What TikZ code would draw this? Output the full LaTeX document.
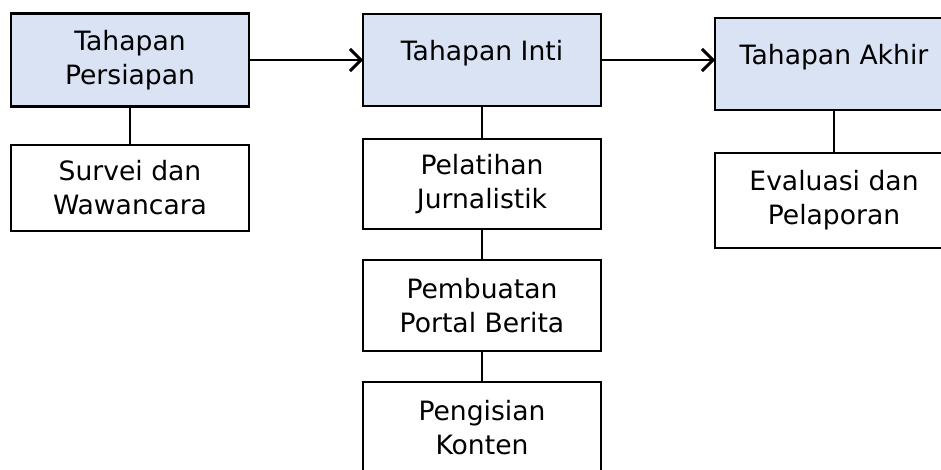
\documentclass[tikz,border=0pt]{standalone}
\usepackage{fontspec}
\setmainfont{DejaVu Sans}
\usetikzlibrary{positioning,arrows.meta}
\definecolor{tahapblue}{HTML}{DAE3F3}
\tikzset{
  kotak/.style={draw=black,line width=2.5pt,minimum width=238pt,outer sep=0pt,
    inner sep=0pt,align=center,font=\fontsize{26.6}{34}\selectfont},
  utama/.style={kotak,fill=tahapblue,minimum height=92pt},
  kegiatan/.style={kotak,fill=white,minimum height=90pt},
  satubaris/.style={text height=22pt,text depth=22pt},
  garis/.style={line width=2.5pt},
  panah/.style={line width=2.5pt,-{Straight Barb[length=11pt,width=22pt,line width=3pt]}}
}

\begin{document}
\begin{tikzpicture}[x=1pt,y=-1pt]
        \useasboundingbox (0,0) rectangle (941,469);
        \clip (0,0) rectangle (941,469);
        % tahapan utama
        \node[utama,minimum height=93pt] (persiapan) at (130,60) {Tahapan\\Persiapan};
        \node[utama,satubaris] (inti) at (482,60) {Tahapan Inti};
        \node[utama,satubaris] (akhir) at (834,64) {Tahapan Akhir};
        % kegiatan tiap tahapan
        \node[kegiatan,minimum height=86pt,below=38.5pt of persiapan] (survei) {Survei dan\\Wawancara};
        \node[kegiatan,below=33pt of inti] (pelatihan) {Pelatihan\\Jurnalistik};
        \node[kegiatan,minimum height=91pt,below=31pt of pelatihan] (portal) {Pembuatan\\Portal Berita};
        \node[kegiatan,minimum height=91pt,below=31pt of portal] (konten) {Pengisian\\Konten};
        \node[kegiatan,minimum height=95pt,below=43pt of akhir] (evaluasi) {Evaluasi dan\\Pelaporan};
        \draw[panah] (persiapan) -- (inti);
        \draw[panah] (inti.east) -- (inti.east -| akhir.west);
        \draw[garis] (persiapan) -- (survei);
        \draw[garis] (inti) -- (pelatihan) -- (portal) -- (konten);
        \draw[garis] (akhir) -- (evaluasi);
    \end{tikzpicture}
\end{document}
